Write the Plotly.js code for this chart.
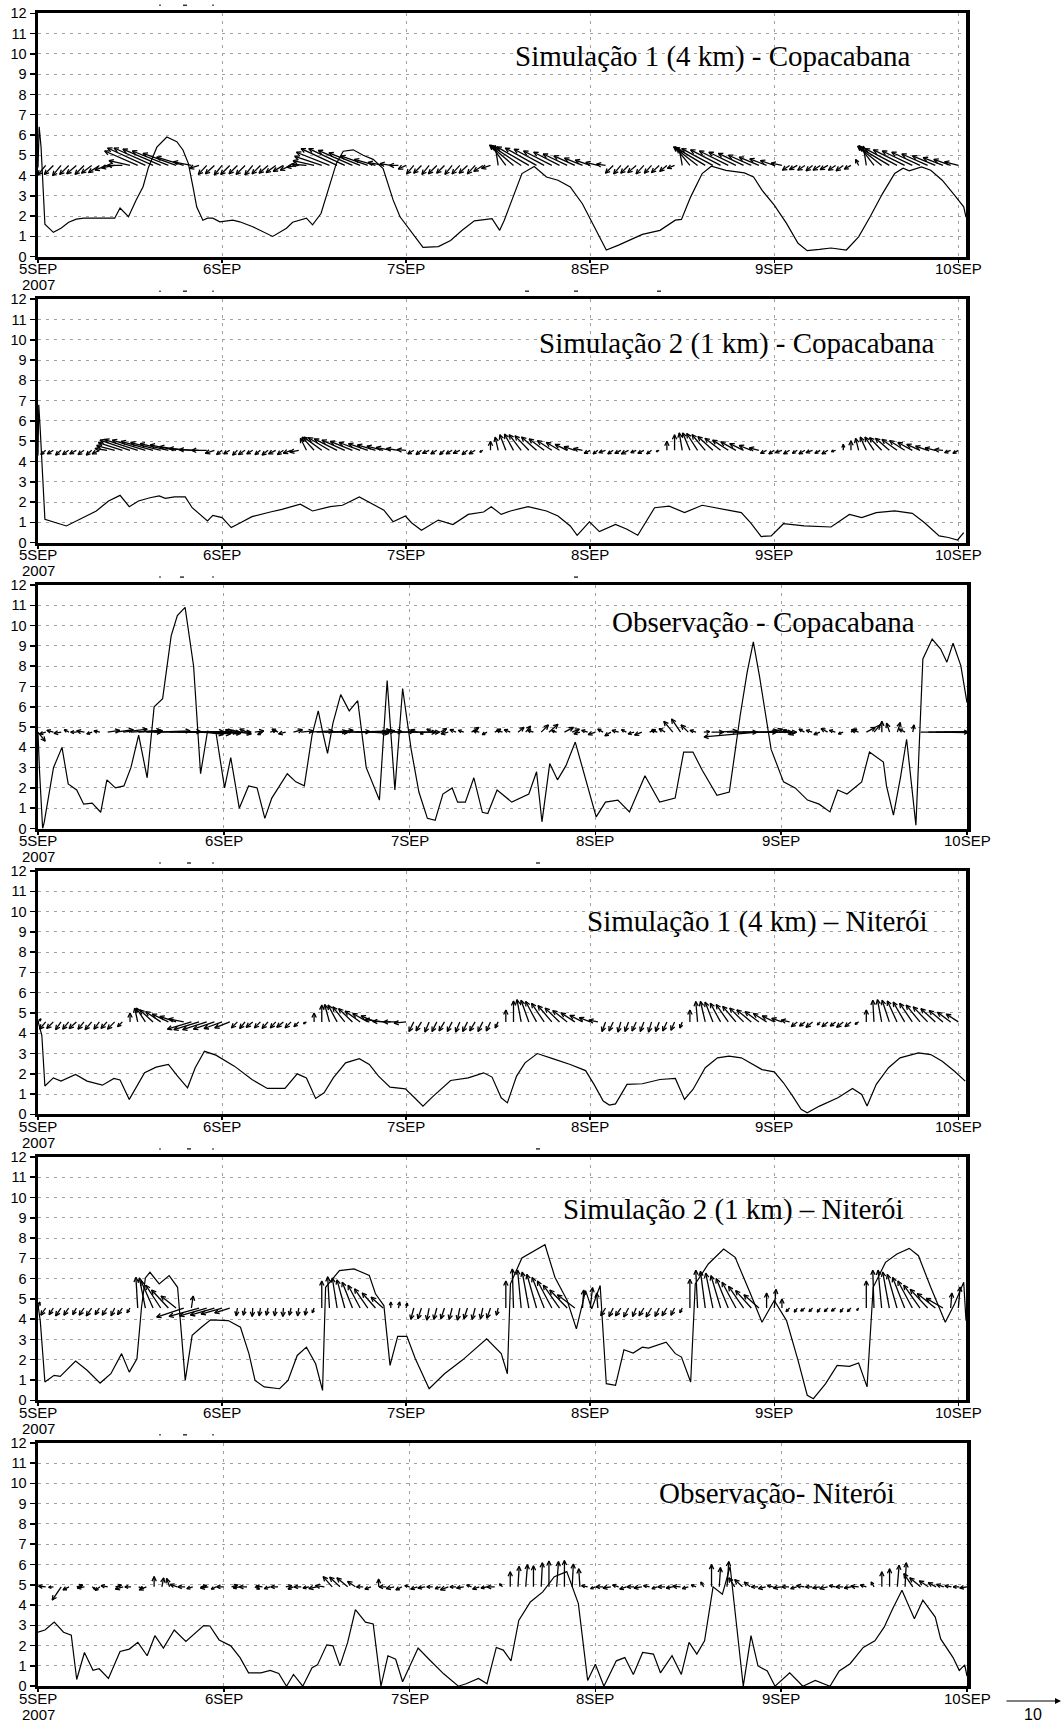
<!DOCTYPE html>
<html>
<head>
<meta charset="utf-8">
<script src="https://cdn.plot.ly/plotly-3.0.1.min.js"></script>
<style>html,body{margin:0;padding:0;background:#fff;}#chart{width:1064px;height:1722px;}</style>
</head>
<body>
<div id="chart"></div>
<script>
// ---------------- DATA ----------------
const TITLES = [
  "Simulação 1 (4 km) - Copacabana",
  "Simulação 2 (1 km) - Copacabana",
  "Observação - Copacabana",
  "Simulação 1 (4 km) \u2013 Niterói",
  "Simulação 2 (1 km) \u2013 Niterói",
  "Observação- Niterói"
];
const TICK_HOURS = [0, 24, 48, 72, 96, 120];
const TICK_LABELS = ["5SEP", "6SEP", "7SEP", "8SEP", "9SEP", "10SEP"];
const YEAR_LABEL = "2007";
const Y_TICKS = [0,1,2,3,4,5,6,7,8,9,10,11,12];
const REF_VECTOR = 10;

// Panel 1: Simulação 1 (4 km) - Copacabana  (hours since 5SEP 00Z, speed m/s)
const P1_HOURS = [0,0.15,0.4,0.9,2,3,4,5,6,8, 10,10.7,11.8,12.8,13.7,14.4,15.5,16.8,18.1,18.9,
  19.6,20.2,20.7,21.5,22.1,22.8,23.7,25.4,26.3,28, 29.8,30.6,32.4,33.2,35,35.8,36.9,38,38.9,39.8,
  41.1,42.4,43.7,45,46.3,47.2,49.1,50.2,52.2,53.8, 55.3,56.9,59.2,60.2,60.8,62,63.1,64.7,66.3,67.8,
  69.4,71,72.5,74.1,75.7,77.2,78.8,81.1,83.1,83.9, 85.1,86.6,87.8,89.7,92.1,93.3,94.4,96,97.6,99.1,
  100.3,101.9,103.4,105.4,107,108.5,110.1,111.7,112.8,113.6, 115.2,116.4,117.9,119.5,120.7,121];
const P1_SPEED = [4.4,6.4,5.4,1.6,1.2,1.4,1.7,1.85,1.9,1.9, 1.9,2.4,1.97,2.8,3.45,4.4,5.4,5.9,5.67,5.26,
  4.6,3.45,2.45,1.8,1.9,1.9,1.72,1.8,1.72,1.48, 1.15,1.0,1.4,1.7,1.9,1.57,2.13,3.45,4.6,5.2,
  5.27,5.0,4.8,4.35,2.8,1.97,1.0,0.46,0.5,0.8, 1.3,1.77,1.88,1.3,1.8,2.95,4.1,4.45,3.93,3.77,
  3.44,2.6,1.48,0.33,0.57,0.82,1.1,1.3,1.8,1.84, 2.95,4.1,4.46,4.26,4.13,3.93,3.28,2.54,1.64,0.66,
  0.3,0.36,0.43,0.33,0.98,1.97,3.1,4.1,4.36,4.23, 4.43,4.26,3.77,3.03,2.46,1.95];
const P1_U = [-1, -1.3,-1.5,-1.4,-1.5,-1.6,-1.5,-1.7,-1.8, -2,-2.2,-2.5,-3.5,
  -5.5,-6.3,-6.5,-6.3,-6,-5.5,-4.5,-3,-1.6,
  -1.4,-1.5,-1.3,-1.5,-1.4,-1.5,-1.3,-1.4,-1.5,-1.6,-1.7,
  -1.8,-2,-2.5,-3.5,-4.5,-5.5,-6,-6,-5.7,-5.2,-4.5,-3.5,-2.5,-1.8,-1.5,-1.3,
  -1.2,-1.3,-1.2,-1.4,-1.3,-1.2,-1.3,-1.4,-1.3,-1.5,
  -1.5,-0.5,-2.5,-4,-5,-5.3,-5.2,-5,-4.7,-4.3,-4,-3.5,-3,-2.5,-2,-1.5,
  -1.3,-1.2,-1.3,-1.4,-1.3,-1.2,-1.3,-1.2,
  -1.2,-0.5,-2.5,-4,-5,-5.2,-5,-4.8,-4.5,-4.2,-3.8,-3.3,-2.8,-2.3,-1.8,
  -1.2,-1.3,-1.2,-1.1,-1.2,-1.3,-1.2,-1.2,-1.1,
  -0.5,-0.5,-2.5,-4,-5,-5.3,-5.2,-5,-4.7,-4.3,-3.8,-3.3,-2.8,-2.3];
const P1_V = [-0.5, -1.6,-1.5,-1.7,-1.5,-1.4,-1.5,-1.3,-1.2, -0.8,-0.4,0,0.8,
  2.4,2.9,2.9,2.7,2.4,2.0,1.4,0.6,-0.5,
  -1.5,-1.4,-1.6,-1.5,-1.4,-1.5,-1.6,-1.4,-1.3,-1.2,-1.0,
  -0.8,-0.3,0.2,0.8,1.5,2.2,2.8,2.8,2.5,2.1,1.6,1.0,0.5,0.3,0,-0.6,
  -1.4,-1.3,-1.5,-1.4,-1.3,-1.5,-1.4,-1.3,-1.4,-1.0,
  -0.5,3.3,3.4,3.4,3.3,3.1,2.9,2.7,2.4,2.2,1.9,1.6,1.2,0.9,0.5,0.2,
  -1.3,-1.4,-1.3,-1.2,-1.4,-1.3,-1.2,-1.0,
  -0.5,2.8,3.1,3.1,3.0,2.8,2.6,2.4,2.2,2.0,1.7,1.4,1.1,0.8,0.4,
  -0.8,-0.7,-0.8,-0.9,-0.8,-0.7,-0.8,-0.9,-0.6,
  1.0,3.2,3.3,3.2,3.0,2.8,2.6,2.4,2.2,1.9,1.6,1.3,1.0,0.6];

// Panel 2: Simulação 2 (1 km) - Copacabana
const P2_HOURS = [0,0.1,0.3,0.6,0.9,3.7,7.6,9.2,10.7,11.9, 13.1,14.6,15.8,16.6,17.8,19.2,20.1,22.1,22.8,24,
  25.2,26.4,27.9,30.3,31.8,34.2,35.8,38.1,39.7,41.9, 44,45.1,46.3,47.9,48.7,50,52.2,54.1,56.1,58.1,
  59.1,60.4,61.6,63.9,66.3,67.8,69.4,70.3,71.9,73.2, 75.3,76.8,78.2,80.4,82.3,84.3,86.6,89.7,91.7,92.9,
  94.3,95.6,97.2,99.9,103.4,105.8,107.4,109.3,111.7,114, 115.6,117.5,118.7,119.9,120.7];
const P2_SPEED = [4.3,6.8,5.5,3.0,1.15,0.82,1.56,2.05,2.33,1.77, 2.05,2.21,2.3,2.18,2.25,2.25,1.72,1.07,1.34,1.23,
  0.74,0.98,1.28,1.51,1.64,1.89,1.56,1.77,1.84,2.25, 1.8,1.6,1.03,1.31,0.98,0.61,1.11,0.89,1.39,1.51,
  1.77,1.39,1.56,1.77,1.56,1.31,0.82,0.36,1.02,0.54, 0.9,0.66,0.36,1.72,1.8,1.48,1.84,1.64,1.48,0.98,
  0.3,0.33,0.93,0.82,0.77,1.39,1.23,1.48,1.56,1.44, 0.98,0.33,0.25,0.13,0.49];
const P2_U = [-0.5, -0.8,-1,-0.9,-1,-1.1,-1,-0.9,-1.2,
  -2,-3,-4,-5,-5.5,-5.5,-5.3,-5,-4.7,-4.3,-4,-3.7,-3.3,-2.5,-1.5,
  -0.9,-1,-0.8,-1.1,-1,-0.9,-1,-1.2,-1,-1.3,-1.5,
  -1,-2,-3,-3.5,-3.8,-3.8,-3.7,-3.5,-3.2,-3,-2.7,-2.4,-2,-1.5,
  -1,-0.9,-1.1,-1,-0.8,-1,-1.1,-0.9,-1,-0.5,
  0,-0.5,-1,-1.5,-2,-2.3,-2.5,-2.5,-2.4,-2.2,-2,-1.8,-1.5,
  -1,-0.8,-1.1,-0.9,-1,-1.2,-0.9,-1,-0.8,-0.5,
  0,0,-0.5,-1.2,-1.8,-2.2,-2.5,-2.6,-2.6,-2.5,-2.3,-2,-1.6,
  -1,-0.9,-1.1,-1,-0.8,-1,-1.1,-0.9,-1,-0.7,
  0,0,-0.5,-1,-1.5,-2,-2.3,-2.5,-2.5,-2.4,-2.2,-2,-1.7,-1.4,
  -1,-0.9];
const P2_V = [-0.5, -0.7,-0.6,-0.8,-0.7,-0.6,-0.7,-0.8,-0.6,
  0.3,0.8,1.3,1.7,1.8,1.7,1.5,1.3,1.1,0.9,0.6,0.3,0.1,0,-0.5,
  -0.7,-0.6,-0.8,-0.7,-0.6,-0.7,-0.8,-0.6,-0.7,-0.5,-0.3,
  2.0,2.2,2.2,2.1,1.9,1.7,1.5,1.3,1.1,0.9,0.7,0.5,0.3,0.1,
  -0.6,-0.7,-0.5,-0.6,-0.7,-0.6,-0.5,-0.7,-0.6,-0.3,
  1.5,2.2,2.6,2.7,2.6,2.4,2.2,1.9,1.6,1.3,1.0,0.6,0.3,
  -0.5,-0.6,-0.4,-0.6,-0.5,-0.6,-0.4,-0.5,-0.6,-0.2,
  1.5,2.6,2.9,2.9,2.8,2.6,2.3,2.0,1.7,1.4,1.1,0.8,0.4,
  -0.5,-0.6,-0.4,-0.6,-0.5,-0.6,-0.4,-0.5,-0.6,-0.2,
  1.0,1.6,2.0,2.2,2.2,2.1,2.0,1.8,1.6,1.3,1.0,0.7,0.4,0.1,
  -0.4,-0.5];

// Panel 3: Observação - Copacabana
const P3_HOURS = [0,0.2,0.6,0.8,2,3.1,3.9,5,5.9,7, 8.1,8.9,10,11.1,12,13,14.1,15,16.1,17.2,
  18,19,20.1,20.6,21,21.9,23,24.1,24.9,26, 27.2,28.3,29.3,30.2,32.2,33.3,34.4,35.4,36.2,36.8,
  37.4,38.1,39.1,40.2,41.3,42.4,43.3,44.1,45.1,46.1, 47.1,48.2,49.2,50.3,51.3,52.3,53.5,54.2,55.2,56.3,
  57.4,58.1,59.3,61.2,63.4,64.4,65.1,66.1,67.1,68.2, 69.4,70.6,72.1,73.3,74.9,76.4,78.4,80.3,82.3,83.4,
  84.6,85.8,87.7,89.3,90.7,91.6,92.4,93.2,94.7,96.3, 97.8,99.4,100.9,102.3,103.3,104.5,106.4,107.4,109.2,109.6,
  110.5,111.4,112.2,113.4,114.3,115.5,116.6,117.4,118.2,119.2, 120];
const P3_SPEED = [4.7,2.8,0,0.3,3.0,4.0,2.2,1.9,1.2,1.25, 0.8,2.4,2.0,2.1,3.0,4.6,2.5,6.0,6.4,9.5,
  10.5,10.9,8.0,5.0,2.7,4.8,4.7,2.0,3.5,1.0, 2.1,2.0,0.5,1.5,2.7,2.3,2.1,4.6,5.8,4.7,
  3.7,5.2,6.6,5.8,6.3,3.0,2.2,1.4,7.3,1.9, 6.9,3.9,1.8,0.5,0.4,1.7,2.0,1.3,1.3,2.5,
  0.8,0.74,1.9,1.3,1.7,2.8,0.33,3.2,2.4,3.1, 4.26,2.6,0.57,1.3,1.4,0.82,2.6,1.3,1.5,3.77,
  3.77,2.87,1.64,1.8,5.57,7.7,9.2,7.5,3.9,2.3, 2.0,1.4,1.2,0.82,1.9,1.7,2.3,3.77,3.28,2.1,
  0.66,2.5,4.4,0.16,8.36,9.34,8.85,8.2,9.13,8.03, 6.2];
const P3_U = [1.2, -1,-1.1,-1.2,-0.8,-1,-1.3,-0.9,-1,
  2,3,4,5,4,2.5,6,6.5,9,10,11,8,5,2.5,4,
  1.5,-1,2,-1.2,1.5,-0.8,1,-1,-1.2,1.5,2,
  4,5,4,3.5,5,6.5,6,6.5,3,2,1.4,7,2,
  5,-1,-0.8,-1,1,-1.2,-1,-0.9,1.2,-1,-0.8,1,-1,
  -1,1,0.8,-1,1.2,1.5,-0.8,1.5,1.2,-1,
  -1,-1.2,-0.9,-1,-1.1,-0.8,-1,-1.2,1,-1,-1,-1.5,-1.5,-1.2,
  -1,1,2,3,5,7,9,7,-9,2,1.5,1,
  -1,-1.2,-0.9,-1,-1,-1.1,-1,-0.8,1,-1.2,1.5,1,
  0,-0.5,0.5,-1,0.2,
  8,9,8.5,8,9,8,6];
const P3_V = [-1.5, -0.3,0.3,-0.2,0.4,0,0.2,-0.3,0.2,
  0.3,0.4,0.5,0.3,0.2,0,0.2,0.1,0.1,0,0,-0.2,-0.3,-0.4,0,
  0.3,0.4,-0.3,0.5,0.2,-0.4,0.3,0.5,-0.3,0.4,0.2,
  0.2,0.1,0,0.3,0.1,0,0.2,0.1,-0.2,0.3,0.2,0,0.1,
  0,0.4,-0.3,0.5,0.6,-0.3,0.4,0.3,0.8,0.2,-0.4,0.5,0.3,
  0.4,0.8,1.0,0.3,1.2,1.3,0.2,0.8,0.5,-0.3,
  0.3,-0.4,0.5,-0.6,0.3,0.4,-0.3,-0.5,0.4,0.3,0.6,1.8,2.2,1.2,
  0.3,0.1,0,0.2,0,0,0,0,-0.8,0.3,0.5,0.3,
  0.3,-0.4,0.5,0.3,-0.4,0.6,0.3,-0.3,0.5,0.4,0.8,1.2,
  1.8,1.5,1.6,0.5,1.2,
  0,0,-0.1,0.1,0,0,0];

// Panel 4: Simulação 1 (4 km) – Niterói
const P4_HOURS = [0,0.5,0.9,2,3,4.9,6.4,8.4,9.9,10.7, 11.9,13.9,15.4,17,18.2,19.5,20.5,21.7,23.2,25.6,
  27.9,29.9,32.2,33.8,35,36.2,37.3,38.5,40.1,41.9, 43.2,44.4,45.9,47.9,49.1,50.2,51.4,53.8,56.1,58.1,
  59.2,60.4,61.2,62.4,63.5,65.1,67.1,69.4,71.4,72.5, 73.7,74.5,75.3,76.8,78.8,81.1,83.1,84.3,85.4,87,
  88.6,90.1,91.7,92.9,94.4,96,97.2,98.4,99.5,100.3, 101.9,104.3,106.2,107.4,108.1,109.3,110.9,112.4,114.8,116.4,
  117.9,119.5,120.9];
const P4_SPEED = [4.6,3.9,1.4,1.8,1.64,1.97,1.64,1.44,1.77,1.7, 0.74,2.05,2.33,2.46,1.89,1.31,2.3,3.11,2.92,2.38,
  1.72,1.28,1.28,2.0,1.8,0.79,1.07,1.8,2.54,2.75, 2.46,1.89,1.34,1.26,0.82,0.41,0.85,1.67,1.8,2.05,
  1.84,0.82,0.57,1.89,2.54,3.0,2.75,2.46,2.16,1.48, 0.66,0.46,0.52,1.48,1.51,1.72,1.77,0.74,1.23,2.3,
  2.79,2.87,2.79,2.54,2.21,2.1,1.56,0.9,0.25,0.08, 0.41,0.82,1.28,0.98,0.41,1.48,2.3,2.79,3.03,2.95,
  2.62,2.13,1.64];
const P4_U = [0.5, -1,-1.1,-0.9,-1,-1.2,-1,-1.1,-0.9,-1,-1.2,-0.8,
  0,-0.5,-1.5,-2.2,-2.5,-2.7,-2.7,-2.5,
  -4,-4.2,-4,-3.5,-3,-2.5,
  -1,-0.9,-1.1,-1,-1,-0.9,-1.1,-1,-0.8,-0.5,
  0,0,-0.8,-1.5,-2,-2.3,-2.5,-2.5,-2.4,-3,-3,-2.5,-2,
  -0.8,-0.9,-0.7,-0.8,-0.9,-0.8,-0.7,-0.8,-0.9,-0.8,-0.7,-0.5,
  0,0,-0.7,-1.3,-1.8,-2.1,-2.3,-2.4,-2.4,-2.3,-2.1,-1.8,-1.5,
  -0.6,-0.7,-0.5,-0.6,-0.7,-0.6,-0.5,-0.6,-0.7,-0.6,-0.4,
  0,-0.3,-0.8,-1.3,-1.7,-2,-2.2,-2.3,-2.4,-2.3,-2.2,-2,-1.7,-1.4,
  -1,-0.9,-1.1,-0.5,-1,-0.9,-1.1,-1,-0.6,
  0,-0.2,-0.7,-1.2,-1.6,-1.9,-2.1,-2.3,-2.4,-2.4,-2.3,-2.2,-2];
const P4_V = [0.5, -1.2,-1.1,-1.3,-1.2,-1.1,-1.2,-1.3,-1.2,-1.1,-1.2,-0.8,
  1.5,2.3,2.3,2.0,1.7,1.3,0.9,0.5,
  -1.2,-1.3,-1.3,-1.2,-1.1,-1.0,
  -1,-1.1,-0.9,-1,-1.1,-1,-0.9,-1,-0.8,-0.3,
  1.5,2.8,2.9,2.8,2.5,2.2,1.8,1.4,1.0,0.4,0.1,0,-0.2,
  -1.6,-1.5,-1.7,-1.6,-1.5,-1.6,-1.7,-1.6,-1.5,-1.6,-1.5,-1.0,
  2,3.5,3.7,3.6,3.4,3.1,2.7,2.3,1.9,1.5,1.1,0.7,0.3,
  -1.6,-1.5,-1.7,-1.6,-1.5,-1.6,-1.7,-1.6,-1.5,-1.4,-1.0,
  2,3.4,3.4,3.3,3.1,2.9,2.6,2.3,2.0,1.7,1.4,1.0,0.6,0.3,
  -0.8,-0.7,-0.9,-0.5,-0.8,-0.7,-0.9,-0.8,-0.4,
  2,3.6,3.7,3.6,3.5,3.3,3.1,2.8,2.5,2.2,1.9,1.6,1.3];

// Panel 5: Simulação 2 (1 km) – Niterói
const P5_HOURS = [0,0.3,0.9,2.1,2.9,4.9,6.4,8.1,9.5,10.9, 11.9,12.9,13.5,14,14.6,15.8,17.1,18.2,19.2,20.1,
  21.3,22.5,24.8,26.4,27.5,28.3,29.5,31.5,32.6,33.8, 35,36.2,37.1,37.5,39.3,41.2,43.2,44,45.1,45.9,
  46.9,48.1,49.2,51,53,55.3,58.5,60.4,61.2,61.6, 63.1,64.7,66.1,67.4,69,70.2,71.4,72.2,73.3,74.1,
  75.3,76.4,77.6,78.8,79.6,81.9,83.1,83.9,85.1,85.7, 87.4,89.4,90.9,92.9,94.4,96,97.6,99.1,100.3,101.1,
  102.7,104.2,105.8,107,108.1,108.9,110.5,112,113.6,114.8, 116.4,118.3,119.5,120.7,121];
const P5_SPEED = [4.7,3.9,0.9,1.23,1.18,1.93,1.48,0.85,1.31,2.3, 1.39,2.05,4.6,6.03,6.31,5.74,6.15,5.57,0.98,3.2,
  3.6,3.97,3.93,3.6,2.3,0.98,0.66,0.57,0.98,2.21, 2.62,1.8,0.49,5.57,6.39,6.48,6.15,5.25,4.67,1.72,
  3.15,3.15,2.05,0.57,1.31,1.97,3.03,2.3,1.31,5.74, 7.02,7.38,7.67,6.07,4.92,3.52,5.41,4.51,5.66,0.82,
  0.74,2.49,2.33,2.62,2.57,2.87,2.3,2.13,0.9,5.74, 6.72,7.46,7.05,5.25,3.85,4.92,3.93,1.97,0.25,0.08,
  0.82,1.72,1.67,1.84,0.66,5.57,6.8,7.21,7.49,7.13, 5.57,3.85,4.75,5.82,3.93];
const P5_U = [0.3, -0.8,-0.7,-0.9,-0.8,-0.6,-0.8,-0.9,-0.7,-0.8,-0.6,-0.8,-0.5,
  -0.3,-1,-2,-2.5,-2.8,-2.5,
  -4.5,0.3,-5,-4.5,-4,-3.5,-2.5,
  -0.2,-0.3,-0.1,-0.2,-0.3,-0.2,-0.1,-0.3,-0.2,-0.2,-0.3,
  0,-0.3,-0.8,-1.3,-1.7,-2,-2.2,-2.2,-2,0,0.2,0.2,
  -0.5,-0.6,-0.4,-0.5,-0.6,-0.5,-0.4,-0.6,-0.5,-0.4,-0.6,-0.3,
  0,-0.2,-0.6,-1.1,-1.6,-2,-2.4,-2.7,-2.9,-2.9,0.2,0.4,-0.2,
  -0.8,-0.7,-0.9,-0.8,-0.6,-0.8,-0.9,-0.7,-0.8,-0.6,-0.4,
  0,-0.3,-0.8,-1.2,-1.6,-2,-2.3,-2.5,-2.6,-2.5,0,0.3,0,
  -0.6,-0.5,-0.7,-0.6,-0.5,-0.6,-0.7,-0.5,-0.6,-0.3,
  0,-0.2,-0.6,-1.1,-1.6,-2,-2.4,-2.7,-2.9,-3,-2.8,0.2,0.3];
const P5_V = [1, -1.2,-1.1,-1.3,-1.2,-1.1,-1.2,-1.3,-1.1,-1.2,-1.3,-1.1,-0.8,
  5.1,5.0,4.5,3.8,3.0,2.0,
  -1.5,2.0,-1.4,-1.3,-1.2,-1.0,-0.8,
  -1.3,-1.2,-1.4,-1.3,-1.2,-1.3,-1.4,-1.2,-1.3,-1.2,-0.8,
  4.5,5.2,5.0,4.7,4.3,3.8,3.2,2.5,1.8,1.0,1.0,0.8,
  -1.9,-1.8,-2.0,-1.9,-1.8,-1.9,-2.0,-1.8,-1.9,-1.8,-1.7,-1.2,
  4.5,6.5,6.3,6.0,5.6,5.1,4.5,3.8,3.0,2.2,3.0,3.4,2.5,
  -1.3,-1.4,-1.3,-1.5,-1.4,-1.3,-1.5,-1.4,-1.3,-1.2,-0.8,
  4.8,6.3,6.1,5.8,5.4,4.9,4.3,3.6,2.9,2.2,2.5,3.1,1.5,
  -0.6,-0.7,-0.5,-0.6,-0.7,-0.6,-0.5,-0.7,-0.6,-0.4,
  4.5,6.3,6.3,6.0,5.6,5.1,4.5,3.8,3.1,2.4,1.6,2.5,3.5];

// Panel 6: Observação- Niterói
const P6_HOURS = [0,0.9,2.1,3.3,4.3,5,6,7.1,7.9,9.1, 10.6,11.8,12.9,14.1,15.1,16.2,17.6,19.1,21.4,22.2,
  23.4,24.9,26.1,27.2,28.8,30,31.1,32.1,33,34.2, 35.4,36.1,37.3,38.1,39,40,41,42.3,43.3,44.3,
  45.2,46.2,47.1,49.1,50.5,52.4,54.3,55.3,56.9,58, 59.2,60.1,61.1,62.1,63.6,65.2,66.7,68.3,69.8,71,
  72,73.1,74.7,75.8,76.9,78.1,79.5,80.4,81.9,83.1, 84.1,85.1,86.1,87.2,88.4,89.4,91.1,92.1,93,94.2,
  95.2,97.1,98.8,100.4,102.3,103.5,104.9,106.6,108.1,109.3, 110.4,111.6,113.2,114.3,115.9,116.6,118.2,119,119.7,120];
const P6_SPEED = [2.66,2.77,3.16,2.66,2.52,0.33,1.66,0.78,0.86,0.38, 1.71,1.83,2.16,1.5,2.49,1.88,2.77,2.21,2.99,2.97,
  2.28,1.99,1.41,0.66,0.66,0.78,0.63,0,0.58,0, 0.91,1.05,2.04,1.99,1.0,2.16,3.77,3.16,3.07,0,
  1.5,1.33,0.22,1.88,1.33,0.61,0,0.12,0.38,0.12, 1.91,1.78,1.25,3.24,4.15,4.65,5.4,5.65,4.07,0.28,
  1.08,0,1.25,1.41,0.58,1.66,1.58,0.66,1.5,0.58, 2.16,1.58,2.24,4.9,4.53,5.9,0,2.49,1.0,0.75,
  0,0.66,0,0.28,0,0.75,1.11,1.91,2.24,2.91, 3.82,4.73,3.32,4.24,3.41,2.33,1.41,0.78,1.05,0.5];
const P6_U = [-1,-1.2,-0.8, -1.5,
  -1,1,-1.2,0.5,-0.8,-1.1,1,-1.3,-1,0.8,-1.2,
  0,0.3,-0.5,-1.2,
  -1.2,-1,1,-1.3,-0.8,-1.2,1,-1,-1.3,0.8,-1.1,-1,-1.2,1,-0.9,-1.2,-1,-1.3,-1.5,
  -1.5,-1.7,-1.8,-1.3,
  -1.1,-1,0,-1.2,-1.3,-1,-0.8,-1.1,-1.2,-1,-0.9,-1.3,-1,-1.2,-0.8,-1.1,-1,-1.3,-0.5,
  0,0.2,0.3,0,0.2,0,0.3,0,0.2,-0.2,
  -1,-0.8,-1.2,-1.3,-1,-1.1,-1.2,-1.3,-1,-0.9,-1.2,-1.1,-1.3,-1,-0.8,-0.5,
  0,0.2,0.3,-1,-1.3,-1,
  -1.1,-1.2,-1,-1.3,-1.2,-1,-1.3,-1.1,-1.2,-1.3,-1,-1.2,-1.1,-1.3,-1,-0.5,
  0,0,0.3,0.2,-1.5,-1.8,-1.5,-1.3,-1.2,
  -1.1,-1,-1.2];
const P6_V = [0,0.1,-0.1, -2.2,
  -0.5,0.3,-0.2,-0.4,-0.6,0.2,0.3,-0.4,0,-0.3,-0.5,
  1.7,1.5,1.4,0.4,
  0,-0.3,0.2,-0.2,-0.4,0,0.3,-0.2,0,-0.4,0.1,-0.3,0,0.2,-0.4,0,-0.2,-0.3,0.2,
  1.7,1.6,1.5,0.9,
  0,-0.4,1.3,0,-0.3,-0.5,0.2,-0.4,-0.2,0,-0.3,-0.5,0,-0.2,0.3,-0.4,-0.2,0,0.5,
  2.5,3.4,3.7,3.5,4.0,4.3,4.2,4.4,3.8,3.0,
  0.2,-0.3,0,-0.2,0.3,-0.4,0,-0.2,0.2,-0.3,0,-0.2,0.1,-0.3,0.3,0.8,
  3.7,3.2,4.2,1.5,1.2,0.8,
  0,-0.3,0.2,-0.2,0,-0.3,0.2,0,-0.2,-0.3,0.2,0,-0.2,0.1,0.3,0.8,
  2.5,3.0,3.6,4.0,2.2,1.5,1.0,0.7,0.4,
  0.2,0,-0.2];

// ---------------- LAYOUT / DRAWING ----------------
const W = 1064, H = 1722;
const TOP0 = 13.3, STEP = 285.9, PH = 243.4, LEFT = 38;
const VEC_PX = 6;   // pixels per m/s for the wind vectors (ref vector 10 = 60 px)

const panels = [
  {hours:P1_HOURS, speed:P1_SPEED, u:P1_U, v:P1_V, base:4.5,  xmax:121, right:966, tRight:913, tY:57,   marks:[160,185,213]},
  {hours:P2_HOURS, speed:P2_SPEED, u:P2_U, v:P2_V, base:4.55, xmax:121, right:966, tRight:937, tY:343,  marks:[160,185,213,527,576,659]},
  {hours:P3_HOURS, speed:P3_SPEED, u:P3_U, v:P3_V, base:4.75, xmax:120, right:967, tRight:917, tY:622,  marks:[160,182,213,576]},
  {hours:P4_HOURS, speed:P4_SPEED, u:P4_U, v:P4_V, base:4.56, xmax:121, right:966, tRight:930, tY:921,  marks:[160,189,213,538]},
  {hours:P5_HOURS, speed:P5_SPEED, u:P5_U, v:P5_V, base:4.55, xmax:121, right:966, tRight:906, tY:1209, marks:[160,189,213,538]},
  {hours:P6_HOURS, speed:P6_SPEED, u:P6_U, v:P6_V, base:4.9,  xmax:120, right:967, tRight:897, tY:1493, marks:[160,185,213]}
];

const traces = [];
const layout = {
  width: W, height: H, margin: {l:0, r:0, t:0, b:0},
  paper_bgcolor: '#fff', plot_bgcolor: '#fff', showlegend: false,
  annotations: [], shapes: []
};
const tickFont = {family: 'Liberation Sans, Arial, sans-serif', size: 15, color: '#000'};
const yTickFont = {family: 'Liberation Sans, Arial, sans-serif', size: 14.5, color: '#000'};

panels.forEach((p, k) => {
  const idx = k === 0 ? '' : String(k + 1);
  const top = TOP0 + STEP * k, bottom = top + PH;
  const pxh = (p.right - LEFT) / p.xmax;
  const pxy = PH / 12;

  layout['xaxis' + idx] = {
    domain: [LEFT / W, p.right / W], range: [0, p.xmax], anchor: 'y' + idx,
    tickmode: 'array', tickvals: TICK_HOURS, showticklabels: false,
    ticks: 'outside', ticklen: 3, tickwidth: 1.5, tickcolor: '#000',
    showline: true, mirror: true, linewidth: 3, linecolor: '#000',
    showgrid: true, gridcolor: '#a0a0a0', gridwidth: 1, griddash: '3px,5px', zeroline: false
  };
  layout['yaxis' + idx] = {
    domain: [1 - bottom / H, 1 - top / H], range: [0, 12], anchor: 'x' + idx,
    tickmode: 'array', tickvals: Y_TICKS,
    ticks: 'outside', ticklen: 5, tickwidth: 1.5, tickcolor: '#000',
    tickfont: yTickFont, showline: true, mirror: true, linewidth: 3.5, linecolor: '#000',
    showgrid: true, gridcolor: '#a0a0a0', gridwidth: 1, griddash: '3px,5px', zeroline: false
  };

  // wind speed line
  traces.push({
    x: p.hours, y: p.speed, xaxis: 'x' + idx, yaxis: 'y' + idx,
    mode: 'lines', line: {color: '#000', width: 1.2}, hoverinfo: 'skip'
  });

  // wind vectors (stick plot)
  const X = [], Y = [];
  for (let i = 0; i < p.u.length; i++) {
    const dxp = p.u[i] * VEC_PX, dyp = p.v[i] * VEC_PX;
    const L = Math.hypot(dxp, dyp);
    if (L < 0.5) continue;
    const x0 = i, y0 = p.base;
    const x1 = x0 + dxp / pxh, y1 = y0 + dyp / pxy;
    X.push(x0, x1, null); Y.push(y0, y1, null);
    const th = Math.atan2(dyp, dxp);
    const hs = Math.min(5, L * 0.6);
    const a1 = th + Math.PI - 0.45, a2 = th + Math.PI + 0.45;
    X.push(x1 + hs * Math.cos(a1) / pxh, x1, x1 + hs * Math.cos(a2) / pxh, null);
    Y.push(y1 + hs * Math.sin(a1) / pxy, y1, y1 + hs * Math.sin(a2) / pxy, null);
  }
  traces.push({
    x: X, y: Y, xaxis: 'x' + idx, yaxis: 'y' + idx,
    mode: 'lines', line: {color: '#000', width: 1.3}, hoverinfo: 'skip', connectgaps: false
  });

  // panel title
  layout.annotations.push({
    xref: 'paper', yref: 'paper', x: p.tRight / W, y: 1 - p.tY / H,
    xanchor: 'right', yanchor: 'middle', showarrow: false,
    text: TITLES[k], font: {family: 'Liberation Serif, Times New Roman, serif', size: 29, color: '#000'}
  });
  // x tick labels (placed close to the frame like the original)
  TICK_HOURS.forEach((h, j) => {
    layout.annotations.push({
      xref: 'x' + idx, yref: 'paper', x: h, y: 1 - (bottom + 12.3) / H,
      xanchor: 'center', yanchor: 'middle', showarrow: false,
      text: TICK_LABELS[j], font: tickFont
    });
  });
  // year label under first tick
  layout.annotations.push({
    xref: 'x' + idx, yref: 'paper', x: 0, y: 1 - (bottom + 28) / H,
    xanchor: 'center', yanchor: 'middle', showarrow: false,
    text: YEAR_LABEL, font: tickFont
  });
  // small scan marks above each frame (as in the original figure)
  p.marks.forEach((mx, j) => {
    const w = (j % 3 === 1 || j >= 3) ? 4 : 1.5;
    layout.shapes.push({
      type: 'line', xref: 'paper', yref: 'paper',
      x0: (mx - w / 2) / W, x1: (mx + w / 2) / W,
      y0: 1 - (top - 8) / H, y1: 1 - (top - 8) / H,
      line: {color: '#333', width: 1.5}
    });
  });
});

// reference vector (bottom right)
layout.annotations.push({
  xref: 'paper', yref: 'paper', x: 1061 / W, y: 1 - 1701 / H,
  ax: -REF_VECTOR * VEC_PX + 4, ay: 0, showarrow: true, arrowhead: 2, arrowsize: 1,
  arrowwidth: 1.2, arrowcolor: '#000', text: ''
});
layout.annotations.push({
  xref: 'paper', yref: 'paper', x: 1033 / W, y: 1 - 1714 / H,
  xanchor: 'center', yanchor: 'middle', showarrow: false,
  text: String(REF_VECTOR), font: {family: 'Liberation Sans, Arial, sans-serif', size: 16, color: '#000'}
});

Plotly.newPlot('chart', traces, layout, {staticPlot: true, displayModeBar: false});
</script>
</body>
</html>
